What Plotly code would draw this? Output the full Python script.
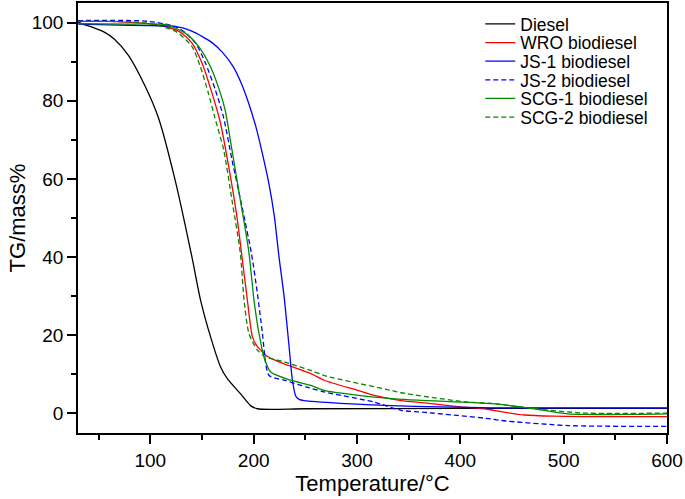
import plotly.graph_objects as go

# temperature (degC) / TG (mass %)
diesel_x = [30, 35, 45, 55, 65, 78.8, 95, 107.9, 124, 140.2, 148.6, 158.3, 168, 174.5, 187.4, 197, 203.6, 250, 400, 600]
diesel_y = [100.2, 99.6, 98.7, 97.6, 95.8, 91.6, 83.7, 75.6, 59.7, 40.1, 29, 19.6, 11.9, 8.9, 5.0, 2.0, 1.2, 1.2, 1.3, 1.3]

wro_x = [30, 60, 104.7, 127.3, 140.2, 149.9, 159.6, 167.7, 175.8, 183.8, 188.7, 193.9, 198.8, 203, 206.8, 211.7,
         220, 229.4, 255.3, 268.2, 300.6, 316.7, 342.6, 365.2, 400, 423, 445, 462, 490, 520, 600]
wro_y = [100.3, 100.3, 99.5, 97.8, 94.8, 89.7, 82, 74.5, 63.2, 50.3, 40.1, 29, 19.6, 17.3, 16.2, 14.9,
         13.7, 12.7, 10.2, 8.5, 5.9, 4.6, 3.3, 2.7, 1.7, 1.2, 0.2, -0.4, -0.7, -0.8, -0.8]

js1_x = [30, 60, 100, 124, 140.2, 160, 170, 180, 188, 195, 202, 208, 214.6, 220, 224.3, 229.4, 234.3, 237.5,
         240.8, 244, 248.8, 284.4, 333, 380, 430, 600]
js1_y = [99.6, 99.4, 99.2, 99, 97.8, 94.8, 92.3, 88.8, 84.5, 79.5, 73.5, 67, 59, 50.5, 40.5, 30, 17, 8.5,
         4.4, 3.6, 3.3, 2.6, 2.0, 1.7, 1.45, 1.4]

js2_x = [30, 98.2, 127.3, 143.5, 153.2, 162.9, 171, 179, 188.7, 197.8, 203.6, 208.5, 211.7, 214.9, 229.4,
         252.1, 268.2, 316.7, 342.6, 365.2, 430, 439.6, 504.3, 600]
js2_y = [100.5, 100.3, 98.6, 94.8, 89.7, 82.8, 75.6, 64.9, 52.9, 41, 30.7, 20.4, 12.7, 9.7, 8.5,
         6.7, 5.5, 2.9, 0.8, 0.3, -1.4, -1.8, -3.1, -3.3]

scg1_x = [30, 80, 114.4, 133.8, 146.7, 158, 167.7, 172.5, 179, 187.1, 195.3, 200.3, 205.2, 210, 216.5,
          235.9, 255.3, 268.2, 333, 430, 472, 504, 600]
scg1_y = [99.7, 99.6, 99.5, 97.3, 93.9, 88.8, 82, 77.5, 67.4, 54.6, 41.4, 29, 20.4, 14.4, 10.6,
          8.5, 7.2, 5.9, 3.8, 2.5, 1.2, -0.1, -0.1]

scg2_x = [30, 95, 124, 140.2, 148.3, 156.1, 162.5, 171, 179, 187.1, 190.7, 195.5, 203.6, 211.7, 229.4,
          255.3, 268.2, 333, 342.6, 407.3, 430, 472, 520.4, 600]
scg2_y = [100.3, 99.9, 97.8, 93.9, 88.8, 82, 75.6, 67.4, 54.6, 41, 29, 20.4, 16.2, 14.4, 13.2,
          11, 9.7, 5.9, 5.3, 2.9, 2.6, 1.2, 0.1, 0.1]

series = [
    ('Diesel', diesel_x, diesel_y, 'black', 'solid'),
    ('WRO biodiesel', wro_x, wro_y, '#ff0000', 'solid'),
    ('JS-1 biodiesel', js1_x, js1_y, '#0000ff', 'solid'),
    ('JS-2 biodiesel', js2_x, js2_y, '#0000ff', '5px,3px'),
    ('SCG-1 biodiesel', scg1_x, scg1_y, '#008a00', 'solid'),
    ('SCG-2 biodiesel', scg2_x, scg2_y, '#008a00', '5px,3px'),
]

fig = go.Figure()
legend_names = ['legend', 'legend2', 'legend3', 'legend4', 'legend5', 'legend6']
for i, (name, xs, ys, col, dash) in enumerate(series):
    fig.add_trace(go.Scatter(x=xs, y=ys, mode='lines', name=name,
                             line=dict(color=col, width=1.3, dash=dash, shape='spline', smoothing=0.7),
                             legend=legend_names[i]))

# one legend per entry so the row spacing can match the picture
top = 0.951
step = 0.0433
for i, ln in enumerate(legend_names):
    fig.update_layout(**{ln: dict(x=0.683, y=top - i * step, xanchor='left', yanchor='middle',
                                  bgcolor='rgba(0,0,0,0)', borderwidth=0,
                                  font=dict(family='Liberation Sans, Arial', size=17.5, color='black'))})

axis_style = dict(showline=True, linecolor='black', linewidth=1.5, mirror=True,
                  ticks='outside', ticklen=9, tickwidth=1.5, tickcolor='black',
                  showgrid=False, zeroline=False, automargin=False,
                  tickfont=dict(family='Liberation Sans, Arial', size=19, color='black'))

fig.update_xaxes(range=[30, 600], tick0=0, dtick=100,
                 minor=dict(dtick=50, ticks='outside', ticklen=5, tickwidth=1.5, tickcolor='black'),
                 title=dict(text='Temperature/°C', font=dict(family='Liberation Sans, Arial', size=22, color='black'),
                            standoff=4),
                 **axis_style)
fig.update_yaxes(range=[-5, 105], tick0=0, dtick=20,
                 minor=dict(dtick=10, ticks='outside', ticklen=5, tickwidth=1.5, tickcolor='black'),
                 title=dict(text='TG/mass%', font=dict(family='Liberation Sans, Arial', size=22, color='black'),
                            standoff=0),
                 **axis_style)

fig.update_layout(width=685, height=499,
                  margin=dict(l=78, r=18, t=3, b=66),
                  plot_bgcolor='white', paper_bgcolor='white',
                  showlegend=True)

# the page's default body margin would shift the figure by 8px
fig.write_html('out.html', config={'displayModeBar': False},
               post_script="document.body.style.margin='0';")
